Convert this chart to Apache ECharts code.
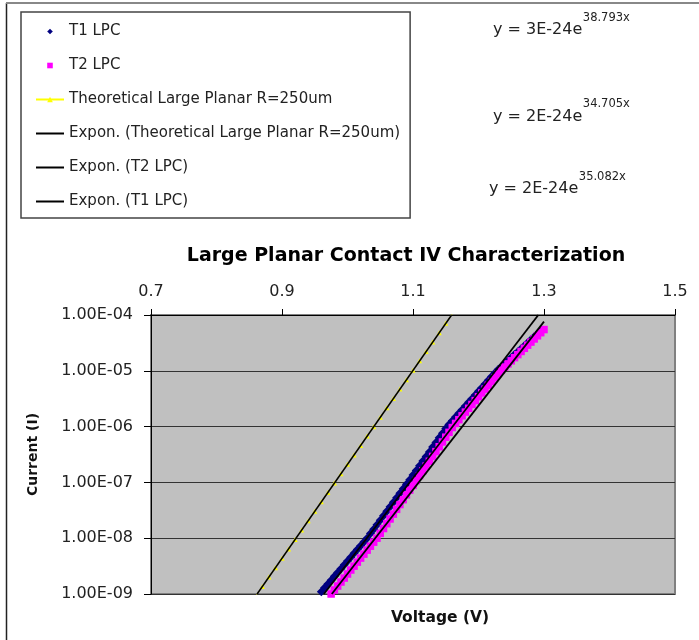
<!DOCTYPE html>
<html><head><meta charset="utf-8">
<script src="https://cdn.jsdelivr.net/npm/echarts@6/dist/echarts.min.js"></script>
<style>html,body{margin:0;padding:0;background:#fff}#c{width:699px;height:640px}</style>
</head><body><div id="c"></div>
<script>
// ---- data ----
const xTicks = [0.7, 0.9, 1.1, 1.3, 1.5];
const yTicks = [1e-9, 1e-8, 1e-7, 1e-6, 1e-5, 1e-4];
const seriesNames = [
  'T1 LPC',
  'T2 LPC',
  'Theoretical Large Planar R=250um',
  'Expon. (Theoretical Large Planar R=250um)',
  'Expon. (T2 LPC)',
  'Expon. (T1 LPC)'
];
const t1Volt = [0.960,0.965,0.970,0.975,0.980,0.985,0.990,0.995,1.000,1.005,1.010,1.015,1.020,1.025,1.030,1.035,1.040,1.045,1.050,1.055,1.060,1.065,1.070,1.075,1.080,1.085,1.090,1.095,1.100,1.105,1.110,1.115,1.120,1.125,1.130,1.135,1.140,1.145,1.150,1.155,1.160,1.165,1.170,1.175,1.180,1.185,1.190,1.195,1.200,1.205,1.210,1.215,1.220,1.225,1.230,1.235,1.240,1.245,1.250,1.255,1.260,1.265,1.270,1.275,1.280,1.285,1.290,1.295];
const t1Curr = [1.10e-9,1.29e-9,1.51e-9,1.77e-9,2.07e-9,2.43e-9,2.84e-9,3.33e-9,3.90e-9,4.57e-9,5.36e-9,6.27e-9,7.35e-9,8.59e-9,1.00e-8,
  1.21e-8,1.45e-8,1.74e-8,2.10e-8,2.52e-8,3.04e-8,3.67e-8,4.40e-8,5.30e-8,6.38e-8,7.66e-8,9.23e-8,
  1.12e-7,1.36e-7,1.64e-7,1.98e-7,2.41e-7,2.92e-7,3.52e-7,4.29e-7,5.19e-7,6.28e-7,7.62e-7,9.25e-7,
  1.09e-6,1.27e-6,1.48e-6,1.73e-6,2.01e-6,2.34e-6,2.72e-6,3.16e-6,3.68e-6,
  4.29e-6,4.99e-6,5.82e-6,6.78e-6,7.89e-6,9.16e-6,1.05e-5,1.19e-5,1.35e-5,1.52e-5,1.73e-5,1.95e-5,2.20e-5,2.49e-5,2.82e-5,3.18e-5,3.61e-5,4.08e-5,4.61e-5,5.21e-5];
const t2Volt = [0.975,0.980,0.985,0.990,0.995,1.000,1.005,1.010,1.015,1.020,1.025,1.030,1.035,1.040,1.045,1.050,1.055,1.060,1.065,1.070,1.075,1.080,1.085,1.090,1.095,1.100,1.105,1.110,1.115,1.120,1.125,1.130,1.135,1.140,1.145,1.150,1.155,1.160,1.165,1.170,1.175,1.180,1.185,1.190,1.195,1.200,1.205,1.210,1.215,1.220,1.225,1.230,1.235,1.240,1.245,1.250,1.255,1.260,1.265,1.270,1.275,1.280,1.285,1.290,1.295,1.300];
const t2Curr = [1.00e-9,1.18e-9,1.39e-9,1.64e-9,1.93e-9,2.28e-9,2.69e-9,3.16e-9,3.72e-9,4.40e-9,5.18e-9,6.11e-9,7.19e-9,8.49e-9,1.00e-8,
  1.22e-8,1.49e-8,1.82e-8,2.21e-8,2.70e-8,3.29e-8,4.01e-8,4.90e-8,5.97e-8,7.28e-8,8.87e-8,
  1.08e-7,1.32e-7,1.61e-7,1.96e-7,2.39e-7,2.92e-7,3.56e-7,4.35e-7,5.30e-7,6.46e-7,7.89e-7,9.62e-7,
  1.14e-6,1.33e-6,1.56e-6,1.82e-6,2.13e-6,2.49e-6,2.92e-6,3.42e-6,4.01e-6,4.69e-6,5.50e-6,6.43e-6,7.53e-6,8.81e-6,
  1.03e-5,1.17e-5,1.33e-5,1.51e-5,1.72e-5,1.95e-5,2.22e-5,2.53e-5,2.88e-5,3.27e-5,3.72e-5,4.24e-5,4.82e-5,5.48e-5];
const thVolt = [0.86,0.87,0.88,0.89,0.90,0.91,0.92,0.93,0.94,0.95,0.96,0.97,0.98,0.99,1.00,1.01,1.02,1.03,1.04,1.05,1.06,1.07,1.08,1.09,1.10,1.11,1.12,1.13,1.14,1.15,1.16];
const thCurr = [9.25e-10,1.36e-9,2.01e-9,2.96e-9,4.37e-9,6.43e-9,9.48e-9,1.40e-8,2.06e-8,3.03e-8,4.48e-8,6.59e-8,9.72e-8,1.43e-7,2.11e-7,3.11e-7,4.59e-7,6.76e-7,9.98e-7,1.47e-6,2.17e-6,3.19e-6,4.71e-6,6.93e-6,1.02e-5,1.51e-5,2.22e-5,3.27e-5,4.82e-5,7.11e-5,1.05e-4];
const trendThVolt = [0.862, 1.159];
const trendThCurr = [1.0e-9, 1.0e-4];
const trendT2Volt = [0.976, 1.300];
const trendT2Curr = [1.0e-9, 7.6e-5];
const trendT1Volt = [0.964, 1.2913];
const trendT1Curr = [1.0e-9, 1.0e-4];
const eqBase = ['y = 3E-24e', 'y = 2E-24e', 'y = 2E-24e'];
const eqExp = ['38.793x', '34.705x', '35.082x'];
const titleText = 'Large Planar Contact IV Characterization';
const xName = 'Voltage (V)';
const yName = 'Current (I)';

// ---- build ----
const pairs = (xs, ys) => xs.map((x, i) => [x, ys[i]]);
const FONT = 'DejaVu Sans';
const fmtY = v => {
  const parts = v.toExponential(2).split('e');
  const e = parseInt(parts[1], 10);
  return parts[0] + 'E' + (e < 0 ? '-' : '+') + String(Math.abs(e)).padStart(2, '0');
};
const measureCtx = document.createElement('canvas').getContext('2d');
const textWidth = (t, font) => { measureCtx.font = font; return measureCtx.measureText(t).width; };

const chart = echarts.init(document.getElementById('c'), null, {renderer: 'canvas'});

const BASE_SIZE = 16, SUP_SIZE = 11.5;
const eqPos = [
  {bx: 493, by: 29.5, sy: 18},
  {bx: 493, by: 116.5, sy: 104.5},
  {bx: 489, by: 189, sy: 177}
];
const graphics = [
  {type: 'line', silent: true, shape: {x1: 6.5, y1: 3, x2: 6.5, y2: 640}, style: {stroke: '#222', lineWidth: 1.5}},
  {type: 'line', silent: true, shape: {x1: 6, y1: 3, x2: 699, y2: 3}, style: {stroke: '#888', lineWidth: 2}},
  {type: 'text', silent: true, x: 406, y: 256.5, style: {text: titleText, fontFamily: FONT, fontWeight: 'bold', fontSize: 19, fill: '#000', align: 'center', verticalAlign: 'middle', textAlign: 'center', textVerticalAlign: 'middle'}},
  {type: 'text', silent: true, x: 440, y: 617.5, style: {text: xName, fontFamily: FONT, fontWeight: 'bold', fontSize: 15.5, fill: '#111', align: 'center', verticalAlign: 'middle', textAlign: 'center', textVerticalAlign: 'middle'}}
];
eqBase.forEach((b, i) => {
  const p = eqPos[i];
  const w = textWidth(b, BASE_SIZE + 'px "' + FONT + '"');
  graphics.push({type: 'text', silent: true, x: p.bx, y: p.by, style: {text: b, fontFamily: FONT, fontSize: BASE_SIZE, fill: '#222', align: 'left', verticalAlign: 'middle', textAlign: 'left', textVerticalAlign: 'middle'}});
  graphics.push({type: 'text', silent: true, x: p.bx + w + 0.5, y: p.sy, style: {text: eqExp[i], fontFamily: FONT, fontSize: SUP_SIZE, fill: '#222', align: 'left', verticalAlign: 'middle', textAlign: 'left', textVerticalAlign: 'middle'}});
});

const option = {
  animation: false,
  backgroundColor: '#fff',
  textStyle: {fontFamily: FONT},
  grid: {left: 151, top: 315, right: 24, bottom: 46, show: true, backgroundColor: '#C0C0C0', borderColor: '#808080', borderWidth: 2},
  legend: {
    orient: 'vertical', left: 21, top: 12,
    padding: [12, 10, 9, 14],
    itemWidth: 28, itemHeight: 7, itemGap: 19,
    borderColor: '#444', borderWidth: 1.5,
    selectedMode: false,
    textStyle: {fontFamily: FONT, fontSize: 15, color: '#222'},
    data: [
      {name: seriesNames[0], lineStyle: {opacity: 0}},
      {name: seriesNames[1], lineStyle: {opacity: 0}},
      {name: seriesNames[2]},
      {name: seriesNames[3], itemStyle: {opacity: 0}},
      {name: seriesNames[4], itemStyle: {opacity: 0}},
      {name: seriesNames[5], itemStyle: {opacity: 0}}
    ]
  },
  xAxis: {
    type: 'value', position: 'top', min: 0.7, max: 1.5, interval: 0.2,
    axisLine: {show: true, onZero: false, lineStyle: {color: '#000', width: 1}},
    axisTick: {show: true, length: 6, customValues: xTicks, lineStyle: {color: '#000'}},
    axisLabel: {show: true, margin: 15, customValues: xTicks, fontFamily: FONT, fontSize: 16, color: '#222', formatter: v => v.toFixed(1)},
    splitLine: {show: false}
  },
  yAxis: {
    type: 'log', logBase: 10, min: yTicks[0], max: yTicks[yTicks.length - 1],
    axisLine: {show: true, onZero: false, lineStyle: {color: '#000', width: 1}},
    axisTick: {show: true, length: 7, lineStyle: {color: '#000'}},
    axisLabel: {margin: 18, fontFamily: FONT, fontSize: 16, color: '#222', formatter: fmtY},
    splitLine: {show: true, lineStyle: {color: '#333', width: 1}},
    minorTick: {show: false},
    name: yName, nameLocation: 'middle', nameGap: 111, nameRotate: 90,
    nameTextStyle: {fontFamily: FONT, fontWeight: 'bold', fontSize: 14, color: '#111'}
  },
  graphic: graphics,
  series: [
    {name: seriesNames[0], type: 'line', z: 2, data: pairs(t1Volt, t1Curr), symbol: 'diamond', symbolSize: 9, showSymbol: true,
     itemStyle: {color: '#000080'}, lineStyle: {opacity: 0, color: '#000080'}, silent: true, clip: true},
    {name: seriesNames[1], type: 'line', z: 2, data: pairs(t2Volt, t2Curr), symbol: 'rect', symbolSize: 7.5, showSymbol: true,
     itemStyle: {color: '#FF00FF'}, lineStyle: {opacity: 0, color: '#FF00FF'}, silent: true, clip: true},
    {name: seriesNames[2], type: 'line', z: 2, data: pairs(thVolt, thCurr), symbol: 'triangle', symbolSize: 5, showSymbol: true,
     itemStyle: {color: '#FFFF00'}, lineStyle: {color: '#FFFF00', width: 1}, silent: true, clip: true},
    {name: seriesNames[3], type: 'line', z: 3, data: pairs(trendThVolt, trendThCurr), symbol: 'none', showSymbol: false,
     itemStyle: {color: '#000'}, lineStyle: {color: '#000', width: 1.5}, silent: true, clip: true},
    {name: seriesNames[4], type: 'line', z: 3, data: pairs(trendT2Volt, trendT2Curr), symbol: 'none', showSymbol: false,
     itemStyle: {color: '#000'}, lineStyle: {color: '#000', width: 1.8}, silent: true, clip: true},
    {name: seriesNames[5], type: 'line', z: 3, data: pairs(trendT1Volt, trendT1Curr), symbol: 'none', showSymbol: false,
     itemStyle: {color: '#000'}, lineStyle: {color: '#000', width: 1.8}, silent: true, clip: true}
  ]
};
chart.setOption(option);
</script>
</body></html>
